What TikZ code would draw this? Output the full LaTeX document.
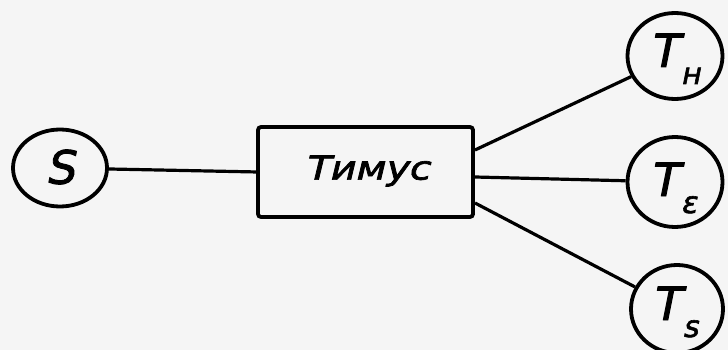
\documentclass[tikz,border=0pt]{standalone}
\usepackage{fontspec}
\setmainfont{DejaVu Sans}
\newfontfamily\lblfont[FakeBold=2,FakeSlant=0.2]{DejaVu Sans}
\usetikzlibrary{shapes.geometric}
\tikzset{
  cell/.style={draw, ellipse, line width=3.8pt, inner sep=0pt},
  organ/.style={draw, line width=3.8pt, rounded corners=3pt, minimum width=215pt, minimum height=90pt, inner sep=0pt},
  link/.style={line width=3.2pt},
  lbl/.style={font=\lblfont\fontsize{46}{46}\selectfont}
}
\newcommand{\tsub}[1]{T\kern3pt\raisebox{-17pt}{\fontsize{30}{30}\selectfont #1}}
\begin{document}
\begin{tikzpicture}[x=1pt,y=-1pt]
  \fill[white!92!gray] (0,0) rectangle (728,350);
  \useasboundingbox (0,0) rectangle (728,350);

  % stem cell and thymus
  \node[cell, minimum width=94pt, minimum height=77pt] (s) at (60,168) {};
  \node[lbl] at (60,167) {S};
  \node[organ] (thy) at (365.5,172) {};
  \node[font=\lblfont\fontsize{33}{33}\selectfont] at (367,171) {\scalebox{1.2}[1]{Тимус}};

  % T-cell subsets
  \node[cell, minimum width=95pt, minimum height=86pt] (th) at (675,56) {};
  \node[lbl, anchor=base west] at (646,67) {\tsub{н}};
  \node[cell, minimum width=95pt, minimum height=90pt] (te) at (675,182) {};
  \node[lbl, anchor=base west] at (646,196) {\tsub{ε}};
  \node[cell, minimum width=92pt, minimum height=88pt] (ts) at (677,309) {};
  \node[lbl, anchor=base west] at (648,320) {\tsub{s}};

  % connectors
  \coordinate (in) at (258,172);
  \coordinate (o1) at (475,150);
  \coordinate (o2) at (475,177);
  \coordinate (o3) at (475,203);
  \draw[link] (s) -- (in);
  \draw[link] (o1) -- (th);
  \draw[link] (o2) -- (te);
  \draw[link] (o3) -- (ts);
\end{tikzpicture}
\end{document}
